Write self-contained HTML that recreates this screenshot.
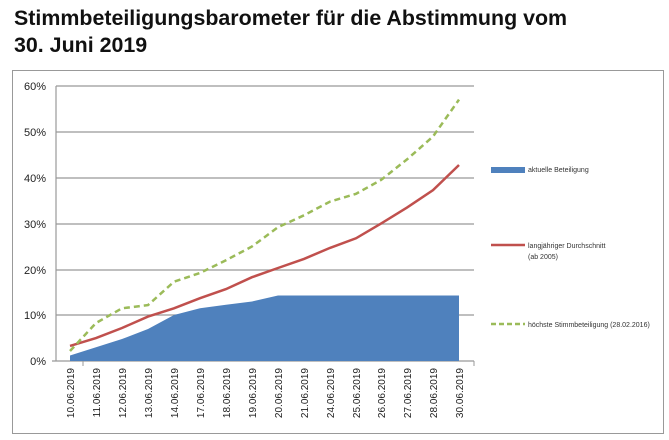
<!DOCTYPE html><html><head><style>body{margin:0;background:#fff;width:669px;height:440px;overflow:hidden;font-family:"Liberation Sans",sans-serif}
.t{position:absolute;left:14px;top:5px;font-weight:bold;font-size:21.4px;line-height:27px;color:#111}</style></head><body>
<div class="t">Stimmbeteiligungsbarometer für die Abstimmung vom<br>30. Juni 2019</div>
<svg width="669" height="440" style="position:absolute;left:0;top:0">
<rect x="12.5" y="70.5" width="651" height="363" fill="none" stroke="#999"/>
<g stroke="#999" stroke-width="1.2">
<line x1="56" y1="86" x2="474" y2="86"/><line x1="56" y1="132" x2="474" y2="132"/><line x1="56" y1="178" x2="474" y2="178"/><line x1="56" y1="224" x2="474" y2="224"/><line x1="56" y1="270" x2="474" y2="270"/><line x1="56" y1="315" x2="474" y2="315"/>
<line x1="56" y1="86" x2="56" y2="361"/><line x1="52" y1="361" x2="474" y2="361"/>
</g>
<g font-size="11" fill="#222" text-anchor="end"><text x="46" y="90">60%</text><text x="46" y="136">50%</text><text x="46" y="182">40%</text><text x="46" y="228">30%</text><text x="46" y="274">20%</text><text x="46" y="319">10%</text><text x="46" y="365">0%</text></g>
<polygon fill="#4f81bd" points="70,361 70,355.5 96,347.3 122,339 148,329 174,315 200,308.3 226,304.7 252,301.5 278,295.5 304,295.5 330,295.5 356,295.5 381,295.5 407,295.5 433,295.5 459,295.5 459,361"/>
<polyline fill="none" stroke="#c0504d" stroke-width="2.5" points="70,345.9 96,338.1 122,328 148,316.6 174,308.3 200,298.2 226,289.1 252,277.2 278,268 304,258.9 330,247.9 356,238.3 381,223.6 407,207.6 433,190.2 459,165"/>
<polyline fill="none" stroke="#9bbb59" stroke-width="2.5" stroke-dasharray="6,4" points="70,351 96,323 122,308.3 148,305.1 174,281.7 200,273 226,260.2 252,246.5 278,227.2 304,215.3 330,201.6 356,193.8 381,180 407,159.4 433,136.5 459,99.6"/>
<g stroke="#999"><line x1="83" y1="361" x2="83" y2="366"/><line x1="474" y1="361" x2="474" y2="366"/></g>
<g font-size="10" fill="#222" text-anchor="end">
<text transform="translate(74,368) rotate(-90)">10.06.2019</text><text transform="translate(100,368) rotate(-90)">11.06.2019</text><text transform="translate(126,368) rotate(-90)">12.06.2019</text><text transform="translate(152,368) rotate(-90)">13.06.2019</text><text transform="translate(178,368) rotate(-90)">14.06.2019</text><text transform="translate(204,368) rotate(-90)">17.06.2019</text><text transform="translate(230,368) rotate(-90)">18.06.2019</text><text transform="translate(256,368) rotate(-90)">19.06.2019</text><text transform="translate(282,368) rotate(-90)">20.06.2019</text><text transform="translate(308,368) rotate(-90)">21.06.2019</text><text transform="translate(334,368) rotate(-90)">24.06.2019</text><text transform="translate(360,368) rotate(-90)">25.06.2019</text><text transform="translate(385,368) rotate(-90)">26.06.2019</text><text transform="translate(411,368) rotate(-90)">27.06.2019</text><text transform="translate(437,368) rotate(-90)">28.06.2019</text><text transform="translate(463,368) rotate(-90)">30.06.2019</text></g>
<rect x="491" y="167" width="34" height="6" fill="#4f81bd"/>
<line x1="491" y1="245" x2="525" y2="245" stroke="#c0504d" stroke-width="2.5"/>
<line x1="491" y1="324" x2="525" y2="324" stroke="#9bbb59" stroke-width="2.5" stroke-dasharray="5,3"/>
<g font-size="7" fill="#333"><text x="528" y="172">aktuelle Beteiligung</text><text x="528" y="248">langjähriger Durchschnitt</text><text x="528" y="259">(ab 2005)</text><text x="528" y="327">höchste Stimmbeteiligung (28.02.2016)</text></g>
</svg></body></html>
